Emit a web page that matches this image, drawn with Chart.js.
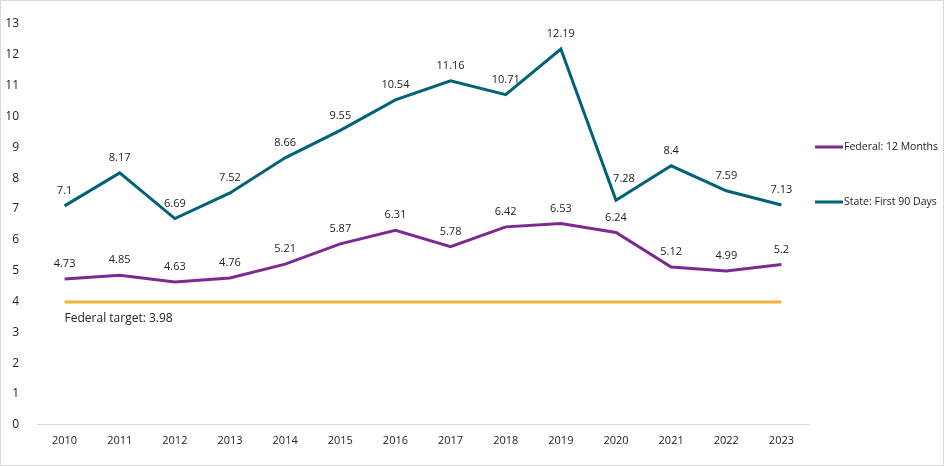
<!DOCTYPE html>
<html>
<head>
<meta charset="utf-8">
<script src="https://cdn.jsdelivr.net/npm/chart.js@4"></script>
<style>
 html,body{margin:0;padding:0;background:#fff}
 #wrap{width:942px;height:464px;border:1px solid #d9d9d9;position:relative}
</style>
</head>
<body>
<div id="wrap"><canvas id="c" width="942" height="464"></canvas></div>
<script>
const years=["2010","2011","2012","2013","2014","2015","2016","2017","2018","2019","2020","2021","2022","2023"]
const federal=[4.73,4.85,4.63,4.76,5.21,5.87,6.31,5.78,6.42,6.53,6.24,5.12,4.99,5.2]
const state=[7.1,8.17,6.69,7.52,8.66,9.55,10.54,11.16,10.71,12.19,7.28,8.4,7.59,7.13]
const target=3.98
const targetLine=years.map(()=>target)

const font="'Open Sans', 'Liberation Sans', sans-serif"

// point labels + target caption + legend
const labels={
 id:"labels",
 afterDatasetsDraw(chart){
  const ctx=chart.ctx
  ctx.save()
  ctx.font="11px "+font
  ctx.fillStyle="#222"
  ;[0,1].forEach(di=>{
   const meta=chart.getDatasetMeta(di)
   meta.data.forEach((p,i)=>{
    let x=p.x,y=p.y-15
    ctx.textAlign="center"
    if(di==1 && i==10){ x=p.x+8; y=p.y-21 }
    ctx.textBaseline="middle"
    ctx.fillText(chart.data.datasets[di].data[i],x,y)
   })
  })
  const t=chart.getDatasetMeta(2).data[0]
  ctx.font="12px "+font
  ctx.textAlign="left"
  ctx.fillText("Federal target: "+target,t.x,t.y+16)

  // legend
  ctx.font="10.5px "+font
  ;[0,1].forEach((di,k)=>{
   const ds=chart.data.datasets[di]
   const y=146+k*55
   ctx.strokeStyle=ds.borderColor
   ctx.lineWidth=3
   ctx.beginPath();ctx.moveTo(814,y);ctx.lineTo(842,y);ctx.stroke()
   ctx.fillStyle="#222"
   ctx.textBaseline="middle"
   ctx.fillText(ds.label,843,y)
  })
  ctx.restore()
 }
}

new Chart(document.getElementById("c"),{
 type:"line",
 data:{
  labels:years,
  datasets:[{
   label:"Federal: 12 Months",
   data:federal,
   borderColor:"#7B2A90",
   borderWidth:3,
   pointRadius:0,
   fill:false
  },{
   label:"State: First 90 Days",
   data:state,
   borderColor:"#006277",
   borderWidth:3,
   pointRadius:0,
   fill:false
  },{
   label:"Federal target",
   data:targetLine,
   borderColor:"#F2B233",
   borderWidth:3,
   pointRadius:0,
   fill:false
  }]
 },
 options:{
  responsive:false,
  animation:false,
  layout:{padding:{left:6,right:134,top:23,bottom:17}},
  plugins:{legend:{display:false},tooltip:{enabled:false}},
  scales:{
   x:{
    offset:true,
    grid:{display:false},
    border:{color:"#d9d9d9",width:1},
    ticks:{color:"#222",font:{family:font,size:11},padding:1}
   },
   y:{
    min:0,max:13,
    afterFit(s){s.width=30},
    grid:{display:false},
    border:{display:false},
    ticks:{stepSize:1,color:"#222",font:{family:font,size:12},padding:10}
   }
  }
 },
 plugins:[labels]
})
</script>
</body>
</html>
